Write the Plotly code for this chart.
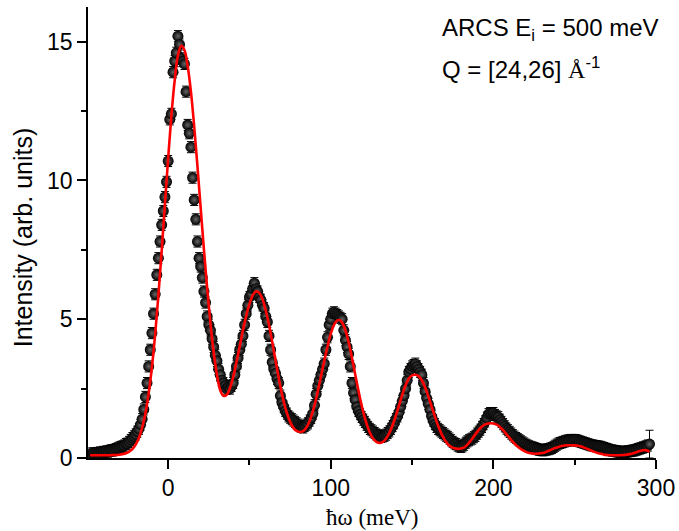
import numpy as np
import plotly.graph_objects as go

# measured spectrum, 1 meV bins from -47 to 296 meV
energy = np.arange(-47, 297)
intensity = [
    0.16, 0.17, 0.15, 0.18, 0.17, 0.20, 0.19, 0.22, 0.21, 0.24,
    0.23, 0.26, 0.28, 0.27, 0.30, 0.32, 0.35, 0.38, 0.40, 0.42,
    0.45, 0.50, 0.52, 0.58, 0.65, 0.72, 0.78, 0.85, 0.95, 1.05,
    1.20, 1.40, 1.75, 2.20, 2.70, 3.30, 3.90, 4.50, 5.20, 5.90,
    6.60, 7.20, 7.80, 8.40, 8.90, 9.40, 9.95, 10.7, 12.2, 12.4,
    13.9, 14.3, 14.6, 15.2, 14.9, 14.4, 14.3, 14.2, 13.2, 12.0,
    11.7, 11.2, 10.1, 9.3, 8.6, 7.8, 7.2, 6.9, 6.5, 6.0,
    5.6, 5.1, 4.8, 4.6, 4.3, 4.0, 3.7, 3.5, 3.2, 3.0,
    2.8, 2.7, 2.6, 2.5, 2.55, 2.5, 2.6, 2.7, 3.0, 3.3,
    3.6, 3.9, 4.1, 4.4, 4.8, 5.2, 5.5, 5.8, 5.9, 6.1,
    6.3, 6.1, 6.0, 5.8, 5.7, 5.5, 5.4, 5.1, 4.9, 4.4,
    3.9, 3.45, 3.2, 3.05, 2.85, 2.7, 2.25, 2.0, 1.85, 1.7,
    1.6, 1.5, 1.45, 1.4, 1.35, 1.3, 1.25, 1.2, 1.15, 1.12,
    1.1, 1.15, 1.2, 1.25, 1.35, 1.45, 1.6, 1.9, 2.3, 2.6,
    2.8, 3.0, 3.2, 3.4, 3.9, 4.35, 4.8, 5.0, 5.2, 5.25,
    5.2, 5.15, 5.1, 5.05, 5.0, 4.6, 4.25, 4.0, 3.75, 3.3,
    2.7, 2.35, 2.1, 1.85, 1.7, 1.58, 1.48, 1.38, 1.3, 1.2,
    1.12, 1.05, 1.0, 0.95, 0.9, 0.85, 0.82, 0.8, 0.76, 0.78,
    0.8, 0.84, 0.9, 0.96, 1.05, 1.15, 1.25, 1.4, 1.5, 1.65,
    1.85, 2.05, 2.25, 2.5, 2.8, 3.1, 3.2, 3.3, 3.35, 3.4,
    3.3, 3.2, 3.1, 3.0, 2.7, 2.4, 2.15, 1.95, 1.75, 1.5,
    1.35, 1.22, 1.12, 1.05, 1.0, 0.95, 0.9, 0.85, 0.8, 0.76,
    0.7, 0.64, 0.58, 0.53, 0.5, 0.45, 0.42, 0.4, 0.42, 0.48,
    0.55, 0.6, 0.64, 0.67, 0.7, 0.75, 0.8, 0.88, 0.95, 1.02,
    1.12, 1.22, 1.32, 1.45, 1.58, 1.62, 1.6, 1.62, 1.55, 1.5,
    1.47, 1.38, 1.3, 1.22, 1.14, 1.06, 1.0, 0.94, 0.88, 0.82,
    0.77, 0.72, 0.68, 0.64, 0.6, 0.56, 0.52, 0.48, 0.45, 0.42,
    0.4, 0.38, 0.36, 0.34, 0.32, 0.3, 0.29, 0.28, 0.28, 0.3,
    0.31, 0.32, 0.34, 0.36, 0.4, 0.44, 0.48, 0.52, 0.54, 0.56,
    0.58, 0.6, 0.62, 0.63, 0.64, 0.65, 0.64, 0.65, 0.64, 0.62,
    0.6, 0.58, 0.56, 0.54, 0.52, 0.5, 0.48, 0.46, 0.45, 0.44,
    0.43, 0.42, 0.41, 0.4, 0.38, 0.36, 0.34, 0.32, 0.3, 0.28,
    0.27, 0.26, 0.25, 0.24, 0.23, 0.22, 0.22, 0.22, 0.22, 0.23,
    0.24, 0.25, 0.26, 0.27, 0.28, 0.3, 0.32, 0.34, 0.36, 0.38,
    0.4, 0.42, 0.45, 0.5,
]
error = 0.2          # typical error bar
last_error = 0.5     # the noisy last bin

# fitted curve, sampled every 2 meV
fit_energy = np.arange(-48, 298, 2)
fit = [
    0.10, 0.10, 0.10, 0.10, 0.10, 0.10, 0.10, 0.11, 0.11, 0.12,
    0.14, 0.17, 0.23, 0.32, 0.48, 0.72, 1.09, 1.60, 2.33, 3.27,
    4.45, 5.87, 7.45, 9.15, 10.80, 12.35, 13.60, 14.50, 14.85, 14.70,
    14.12, 13.20, 11.95, 10.52, 9.00, 7.50, 6.10, 4.85, 3.80, 3.00,
    2.45, 2.24, 2.28, 2.52, 2.92, 3.45, 4.02, 4.60, 5.12, 5.55,
    5.86, 6.00, 5.95, 5.72, 5.32, 4.80, 4.18, 3.52, 2.88, 2.30,
    1.82, 1.45, 1.18, 1.02, 0.95, 0.94, 1.02, 1.20, 1.50, 1.90,
    2.40, 2.95, 3.50, 4.02, 4.48, 4.80, 4.96, 4.95, 4.76, 4.40,
    3.90, 3.32, 2.72, 2.15, 1.65, 1.24, 0.92, 0.70, 0.58, 0.54,
    0.58, 0.70, 0.90, 1.18, 1.52, 1.90, 2.28, 2.62, 2.86, 2.98,
    3.00, 2.95, 2.80, 2.55, 2.22, 1.86, 1.50, 1.16, 0.88, 0.66,
    0.50, 0.40, 0.35, 0.33, 0.34, 0.38, 0.48, 0.62, 0.78, 0.94,
    1.08, 1.18, 1.23, 1.25, 1.24, 1.20, 1.12, 1.00, 0.86, 0.72,
    0.58, 0.46, 0.36, 0.28, 0.22, 0.18, 0.16, 0.155, 0.16, 0.18,
    0.21, 0.26, 0.31, 0.36, 0.40, 0.43, 0.45, 0.46, 0.46, 0.455,
    0.44, 0.41, 0.37, 0.32, 0.27, 0.22, 0.18, 0.15, 0.12, 0.11,
    0.10, 0.10, 0.10, 0.10, 0.11, 0.12, 0.14, 0.17, 0.21, 0.25,
    0.28, 0.28, 0.22,
]

sans = "Arial, Liberation Sans, sans-serif"
serif = "Times New Roman, Liberation Serif, serif"

fig = go.Figure()

marker = dict(size=11, color="#000000", gradient=dict(type="radial", color="#666666"),
              line=dict(width=0))
fig.add_trace(go.Scatter(
    x=energy[:-1], y=intensity[:-1], mode="markers", marker=marker,
    error_y=dict(type="constant", value=error, color="black", thickness=1, width=4),
))
fig.add_trace(go.Scatter(
    x=energy[-1:], y=intensity[-1:], mode="markers", marker=marker,
    error_y=dict(type="constant", value=last_error, color="black", thickness=1, width=4),
))
fig.add_trace(go.Scatter(
    x=fit_energy, y=fit, mode="lines", line=dict(color="#ff0000", width=2.6, shape="spline"),
))

axis_style = dict(
    showline=True, linecolor="black", linewidth=1.5, mirror=False,
    ticks="outside", ticklen=9, tickwidth=1.5, tickcolor="black",
    showgrid=False, zeroline=False, automargin=False,
    tickfont=dict(family=sans, size=23, color="black"),
)
fig.update_xaxes(
    range=[-49.3, 300], tick0=0, dtick=100,
    minor=dict(dtick=50, ticks="outside", ticklen=5, tickwidth=1.5, tickcolor="black", showgrid=False),
    **axis_style,
)
fig.update_yaxes(
    range=[0, 16.25], tick0=0, dtick=5,
    minor=dict(dtick=2.5, ticks="outside", ticklen=5, tickwidth=1.5, tickcolor="black", showgrid=False),
    **axis_style,
)

# axis titles placed as annotations so the frame does not move
fig.add_annotation(
    text="ħω (meV)", xref="paper", yref="paper", x=0.5, y=-0.133,
    xanchor="center", yanchor="middle", showarrow=False,
    font=dict(family=serif, size=23, color="black"),
)
fig.add_annotation(
    text="Intensity (arb. units)", xref="paper", yref="paper", x=-0.114, y=0.49,
    xanchor="center", yanchor="middle", textangle=-90, showarrow=False,
    font=dict(family=sans, size=25, color="black"),
)

fig.add_annotation(
    text="ARCS E<sub>i</sub> = 500 meV", xref="paper", yref="paper",
    x=0.62, y=0.95, xanchor="left", yanchor="middle", showarrow=False,
    font=dict(family=sans, size=24, color="black"),
)
fig.add_annotation(
    text="Q = [24,26] <span style='font-family:Times New Roman, Liberation Serif, serif'>Å</span><sup>-1</sup>",
    xref="paper", yref="paper",
    x=0.62, y=0.865, xanchor="left", yanchor="middle", showarrow=False,
    font=dict(family=sans, size=24, color="black"),
)

fig.update_layout(
    width=679, height=531,
    margin=dict(l=88, r=23, t=7, b=73),
    plot_bgcolor="white", paper_bgcolor="white",
    showlegend=False,
)

# drop the page's default body margin so the figure sits at the window origin
fig.write_html("out.html", config={"displayModeBar": False},
               post_script="document.body.style.margin='0px';")
